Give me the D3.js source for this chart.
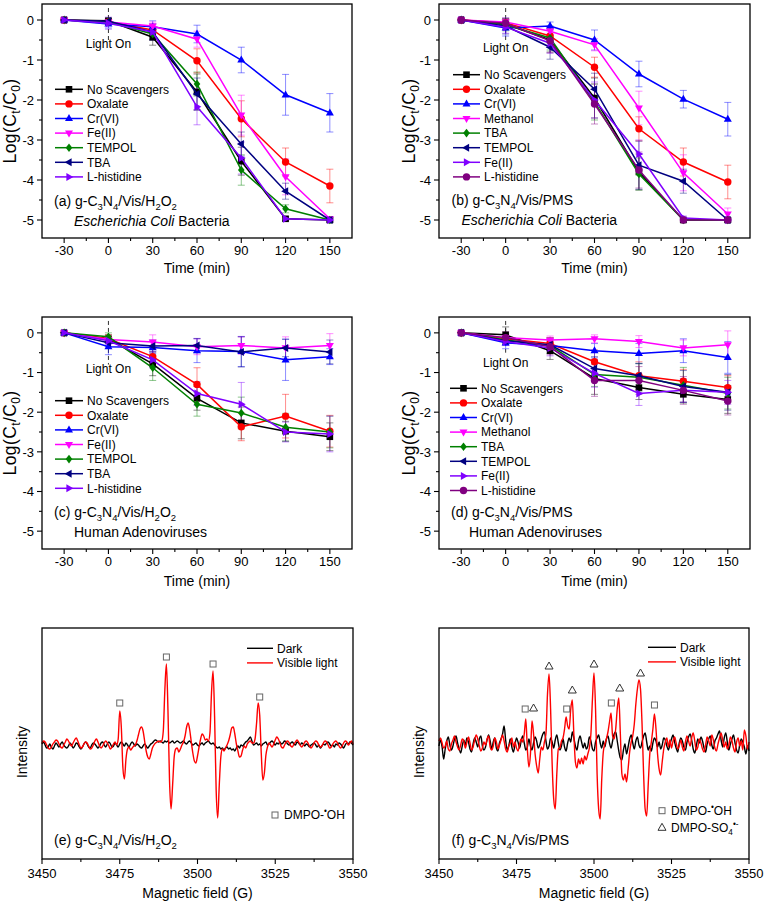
<!DOCTYPE html>
<html><head><meta charset="utf-8">
<script src="https://cdn.jsdelivr.net/npm/d3@7"></script>
<style>body{margin:0;background:#fff}svg{display:block;font-family:"Liberation Sans",Arial,sans-serif}</style>
</head><body><svg id="chart" width="765" height="906"></svg>
<script>
// ---------------- DATA ----------------
const timePoints = [-30, 0, 30, 60, 90, 120, 150];
const xTickValues = [-30, 0, 30, 60, 90, 120, 150];
const xTickLabels = ["-30", "0", "30", "60", "90", "120", "150"];
const yTickValues = [0, -1, -2, -3, -4, -5];
const yTickLabels = ["0", "-1", "-2", "-3", "-4", "-5"];

// (a) g-C3N4/Vis/H2O2, E. coli
const aSeries = ["No Scavengers", "Oxalate", "Cr(VI)", "Fe(II)", "TEMPOL", "TBA", "L-histidine"];
const aNoScav = [0, -0.02, -0.43, -1.80, -3.53, -4.97, -5.00];
const aOxalate = [0, -0.05, -0.25, -1.02, -2.47, -3.55, -4.15];
const aCr = [0, -0.10, -0.17, -0.35, -1.00, -1.87, -2.32];
const aFe = [0, -0.05, -0.15, -0.48, -2.38, -3.92, -4.97];
const aTempol = [0, -0.05, -0.35, -1.60, -3.75, -4.72, -5.00];
const aTba = [0, -0.03, -0.30, -1.85, -3.10, -4.28, -5.00];
const aHis = [0, -0.08, -0.30, -2.17, -3.45, -4.97, -5.00];
const aNoScavErr = [0, 0.05, 0.20, 0.45, 0.35, 0.05, 0.05];
const aOxalateErr = [0, 0.05, 0.10, 0.30, 0.45, 0.35, 0.42];
const aCrErr = [0, 0.10, 0.15, 0.22, 0.32, 0.51, 0.48];
const aFeErr = [0, 0.05, 0.10, 0.20, 0.50, 0.45, 0.05];
const aTempolErr = [0, 0.05, 0.15, 0.30, 0.38, 0.10, 0.05];
const aTbaErr = [0, 0.08, 0.20, 0.40, 0.30, 0.20, 0.05];
const aHisErr = [0, 0.15, 0.20, 0.45, 0.40, 0.05, 0.05];

// (b) g-C3N4/Vis/PMS, E. coli
const bSeries = ["No Scavengers", "Oxalate", "Cr(VI)", "Methanol", "TBA", "TEMPOL", "Fe(II)", "L-histidine"];
const bNoScav = [0, -0.10, -0.50, -1.95, -3.80, -5.00, -5.00];
const bOxalate = [0, -0.07, -0.40, -1.18, -2.72, -3.55, -4.05];
const bCr = [0, -0.20, -0.15, -0.50, -1.35, -1.98, -2.48];
const bMethanol = [0, -0.05, -0.28, -0.62, -2.20, -3.82, -4.85];
const bTba = [0, -0.12, -0.45, -2.05, -3.85, -5.00, -5.00];
const bTempol = [0, -0.15, -0.68, -1.73, -3.63, -4.03, -5.00];
const bFe = [0, -0.18, -0.58, -2.00, -3.35, -4.95, -5.00];
const bHis = [0, -0.08, -0.52, -2.10, -3.75, -5.00, -5.00];
const bNoScavErr = [0, 0.10, 0.30, 0.50, 0.45, 0.05, 0.05];
const bOxalateErr = [0, 0.10, 0.15, 0.25, 0.30, 0.35, 0.42];
const bCrErr = [0, 0.20, 0.10, 0.25, 0.32, 0.22, 0.42];
const bMethanolErr = [0, 0.10, 0.10, 0.15, 0.42, 0.45, 0.15];
const bTbaErr = [0, 0.15, 0.30, 0.45, 0.40, 0.05, 0.05];
const bTempolErr = [0, 0.20, 0.30, 0.40, 0.60, 0.30, 0.05];
const bFeErr = [0, 0.15, 0.25, 0.45, 0.35, 0.05, 0.05];
const bHisErr = [0, 0.10, 0.30, 0.50, 0.45, 0.05, 0.05];

// (c) g-C3N4/Vis/H2O2, Human Adenoviruses
const cSeries = ["No Scavengers", "Oxalate", "Cr(VI)", "Fe(II)", "TEMPOL", "TBA", "L-histidine"];
const cNoScav = [0, -0.15, -0.78, -1.65, -2.27, -2.48, -2.62];
const cOxalate = [0, -0.15, -0.60, -1.30, -2.37, -2.10, -2.48];
const cCr = [0, -0.35, -0.37, -0.45, -0.47, -0.68, -0.60];
const cFe = [0, -0.17, -0.23, -0.35, -0.32, -0.38, -0.32];
const cTempol = [0, -0.10, -0.88, -1.80, -2.02, -2.38, -2.50];
const cTba = [0, -0.25, -0.33, -0.32, -0.48, -0.38, -0.48];
const cHis = [0, -0.20, -0.68, -1.53, -1.80, -2.50, -2.55];
const cNoScavErr = [0, 0.10, 0.30, 0.30, 0.40, 0.25, 0.35];
const cOxalateErr = [0, 0.10, 0.20, 0.42, 0.35, 0.55, 0.40];
const cCrErr = [0, 0.20, 0.15, 0.30, 0.38, 0.52, 0.20];
const cFeErr = [0, 0.05, 0.18, 0.20, 0.22, 0.28, 0.30];
const cTempolErr = [0, 0.10, 0.32, 0.30, 0.40, 0.35, 0.40];
const cTbaErr = [0, 0.10, 0.15, 0.18, 0.38, 0.22, 0.30];
const cHisErr = [0, 0.10, 0.20, 0.30, 0.55, 0.25, 0.45];

// (d) g-C3N4/Vis/PMS, Human Adenoviruses
const dSeries = ["No Scavengers", "Oxalate", "Cr(VI)", "Methanol", "TBA", "TEMPOL", "Fe(II)", "L-histidine"];
const dNoScav = [0, -0.05, -0.45, -1.15, -1.38, -1.55, -1.68];
const dOxalate = [0, -0.15, -0.27, -0.73, -1.08, -1.22, -1.38];
const dCr = [0, -0.25, -0.32, -0.45, -0.52, -0.45, -0.62];
const dMethanol = [0, -0.12, -0.18, -0.15, -0.22, -0.38, -0.30];
const dTba = [0, -0.18, -0.32, -1.05, -1.12, -1.32, -1.52];
const dTempol = [0, -0.20, -0.30, -0.90, -1.08, -1.35, -1.50];
const dFe = [0, -0.22, -0.38, -1.02, -1.53, -1.45, -1.50];
const dHis = [0, -0.12, -0.35, -1.20, -1.20, -1.45, -1.72];
const dNoScavErr = [0, 0.20, 0.22, 0.40, 0.30, 0.20, 0.35];
const dOxalateErr = [0, 0.10, 0.15, 0.30, 0.35, 0.30, 0.30];
const dCrErr = [0, 0.15, 0.12, 0.18, 0.25, 0.30, 0.40];
const dMethanolErr = [0, 0.10, 0.10, 0.10, 0.15, 0.20, 0.35];
const dTbaErr = [0, 0.10, 0.20, 0.30, 0.35, 0.45, 0.40];
const dTempolErr = [0, 0.10, 0.15, 0.30, 0.30, 0.40, 0.45];
const dFeErr = [0, 0.10, 0.20, 0.35, 0.30, 0.30, 0.30];
const dHisErr = [0, 0.15, 0.20, 0.40, 0.35, 0.35, 0.35];

// EPR spectra: field from 3450 G in 0.5 G steps (201 points), intensity in a.u.
const fieldStart = 3450, fieldStep = 0.5;
const fieldTicks = [3450, 3475, 3500, 3525, 3550];
const eVisible = [
  2,4,3,0,-3,-4,-2,1,3,5,
  4,1,-2,-3,0,3,6,4,1,-1,
  2,5,7,4,0,-3,-2,1,3,2,
  -1,-4,-3,0,4,6,3,-1,-3,-1,
  2,4,2,-1,-4,-2,1,3,0,6,
  34,18,-22,-34,-14,-4,-2,-5,-3,-1,
  0,4,10,16,18,14,4,-6,-12,-14,
  -9,-3,0,2,3,4,3,4,14,55,
  81,35,-35,-64,-40,-12,-4,-3,-7,-4,
  0,3,9,18,22,15,3,-8,-16,-18,
  -11,-2,6,11,9,5,6,4,12,52,
  74,28,-45,-73,-40,-12,-4,-6,-3,0,
  4,10,17,18,11,1,-6,-12,-11,-5,
  -1,-3,1,3,4,2,2,6,22,42,
  30,-8,-35,-28,-10,-2,2,0,-2,1,
  5,8,6,2,-2,-3,0,3,4,2,
  -1,-2,1,3,5,3,0,-2,0,3,
  4,2,-1,-3,-1,2,4,3,0,-2,
  -1,2,4,3,0,-3,-2,1,3,4,
  2,-1,-3,-1,2,4,3,0,2,4,
  1];
const eDark = [
  1,3,0,-3,-2,1,-2,-4,-1,2,
  0,-2,1,3,0,-2,-3,-1,2,0,
  -3,-1,2,1,-2,-4,-2,1,3,1,
  -2,-3,0,2,1,-1,-3,-1,2,3,
  0,-2,1,3,1,-2,-1,2,0,-2,
  1,3,1,-1,2,0,-2,1,3,1,
  -1,1,0,-2,-3,-1,1,-1,-3,-1,
  1,2,4,5,4,3,4,3,2,4,
  3,4,2,3,4,2,3,4,3,2,
  3,4,2,1,3,4,2,0,1,2,
  0,-1,1,2,0,2,3,4,2,1,
  2,0,-2,-3,-2,-4,-3,-5,-3,-2,
  -4,-3,-5,-4,-6,-3,-1,-3,0,-1,
  1,3,4,6,8,4,0,1,2,0,
  1,-1,1,2,3,0,1,3,4,2,
  0,2,1,3,1,2,4,3,1,0,
  2,3,1,0,3,2,0,2,1,-1,
  1,0,-2,0,1,2,0,-2,0,-3,
  -1,1,0,2,3,1,-1,0,-2,1,
  0,2,1,-1,-3,0,2,1,3,2,
  0];
const eMarkField = [3475, 3490, 3505, 3520];
const eMarkIntensity = [42, 88, 81, 48];

const fVisible = [
  3,6,1,-4,-2,3,-5,-7,0,4,
  8,2,-3,-6,-1,5,3,-4,2,7,
  1,-6,-3,4,9,5,-2,-7,-4,2,
  -1,5,8,-3,-6,-2,6,2,-5,-1,
  4,9,3,-5,-8,-2,1,6,-3,2,
  -4,-7,0,5,2,10,25,-5,-23,-10,
  23,10,-10,-22,-29,-15,-3,-6,2,10,
  50,70,35,-20,-55,-65,-30,-5,-4,3,
  6,15,27,18,15,35,44,10,-18,-24,
  -15,-20,-14,-20,-12,-16,-10,-4,10,45,
  71,35,-30,-65,-75,-35,-8,0,5,12,
  22,31,8,5,15,35,46,10,-30,-36,
  -30,-38,-25,-8,2,8,20,40,55,64,
  55,20,-30,-65,-72,-40,-10,2,15,30,
  15,-10,-25,-31,-18,-5,2,6,-3,4,
  -4,3,7,1,-5,-2,4,-3,-7,2,
  8,3,-2,6,11,3,-6,-3,5,1,
  -5,-8,-1,7,3,-2,9,4,-4,-7,
  0,6,11,4,-3,2,-5,-1,7,3,
  -4,-8,2,6,-2,3,-6,14,8,-5,
  2];
const fDark = [
  -2,4,-3,-15,-5,3,7,-1,-6,-2,
  5,8,1,-5,-9,-2,4,-1,6,2,
  -5,-8,0,6,2,-3,5,8,-2,-6,
  -3,4,9,3,-5,2,6,-4,-7,1,
  5,10,18,4,-6,-2,5,-3,-8,-1,
  6,2,-4,3,8,1,-6,-3,5,-2,
  -6,1,7,3,-4,-1,5,10,12,3,
  -5,-2,6,2,-4,4,9,1,-6,-2,
  5,-3,-7,1,6,2,12,6,-2,-6,
  3,8,2,-4,1,-5,-2,7,3,-5,
  -7,2,6,9,1,-4,3,-3,5,8,
  1,-4,3,10,12,3,-7,-14,-16,-6,
  0,-10,-3,5,9,1,-5,3,7,-1,
  -4,2,8,11,2,-6,-2,-7,1,6,
  3,-3,2,-5,-1,6,4,-2,-6,0,
  5,9,2,-4,-8,1,6,3,-3,-6,
  2,7,10,4,-5,-9,-2,5,1,7,
  3,-4,-8,0,5,8,-1,-5,3,6,
  10,13,4,-3,6,11,2,-6,0,5,
  9,1,-6,-9,-1,5,2,-3,-10,-2,
  -7];
const fMarkField = [3477.8, 3480.5, 3485.5, 3491.2, 3493.0, 3500.0, 3505.6, 3508.3, 3515.0, 3519.5];
const fMarkIntensity = [35, 36, 78, 35, 54, 80, 41, 56, 71, 39];
const fMarkType = ["sq", "tri", "tri", "sq", "tri", "tri", "sq", "tri", "tri", "sq"];

// ---------------- STYLE ----------------
const colH2O2 = ["#000000", "#ff0000", "#0000ff", "#ff00ff", "#008000", "#000080", "#8000ff"];
const symH2O2 = ["square", "circle", "triUp", "triDown", "diamond", "triLeft", "triRight"];
const colPMS = ["#000000", "#ff0000", "#0000ff", "#ff00ff", "#008000", "#000080", "#8000ff", "#800080"];
const symPMS = ["square", "circle", "triUp", "triDown", "diamond", "triLeft", "triRight", "circle"];
const symPaths = {
  square: "M-3.3,-3.3H3.3V3.3H-3.3Z",
  triUp: "M0,-4.4L4,2.6L-4,2.6Z",
  triDown: "M0,4.4L4,-2.6L-4,-2.6Z",
  diamond: "M0,-4.3L3.3,0L0,4.3L-3.3,0Z",
  triLeft: "M-4.4,0L2.6,-4L2.6,4Z",
  triRight: "M4.4,0L-2.6,-4L-2.6,4Z"
};

const svg = d3.select("#chart");

function rich(sel, x, y, parts, size, anchor) {
  const t = sel.append("text").attr("x", x).attr("y", y).attr("font-size", size)
    .attr("text-anchor", anchor || "start").attr("fill", "#000");
  let shift = 0;
  parts.forEach(([s, m]) => {
    const ts = t.append("tspan").text(s);
    const target = m === "sub" ? size * 0.28 : m === "sup" ? -size * 0.42 : 0;
    ts.attr("dy", target - shift);
    shift = target;
    if (m === "sub" || m === "sup") ts.attr("font-size", size * 0.68);
    if (m === "i") ts.attr("font-style", "italic");
  });
  return t;
}

function marker(g, type, x, y, color) {
  if (type === "circle") {
    g.append("circle").attr("cx", x).attr("cy", y).attr("r", 3.7).attr("fill", color);
  } else {
    g.append("path").attr("d", symPaths[type]).attr("transform", `translate(${x},${y})`).attr("fill", color);
  }
}

function kinetics(cfg) {
  const g = svg.append("g");
  const x = d3.scaleLinear().domain([-45, 165]).range([cfg.left, cfg.right]);
  const y = d3.scaleLinear().domain([-5.45, 0.4]).range([cfg.bottom, cfg.top]);
  const tk = g.append("g").attr("stroke", "#000").attr("stroke-width", 1.1);
  xTickValues.forEach(v => tk.append("line").attr("x1", x(v)).attr("x2", x(v)).attr("y1", cfg.bottom).attr("y2", cfg.bottom + 5));
  d3.range(-15, 150, 30).forEach(v => tk.append("line").attr("x1", x(v)).attr("x2", x(v)).attr("y1", cfg.bottom).attr("y2", cfg.bottom + 3));
  yTickValues.forEach(v => tk.append("line").attr("x1", cfg.left - 5).attr("x2", cfg.left).attr("y1", y(v)).attr("y2", y(v)));
  [-0.5, -1.5, -2.5, -3.5, -4.5].forEach(v => tk.append("line").attr("x1", cfg.left - 3).attr("x2", cfg.left).attr("y1", y(v)).attr("y2", y(v)));
  xTickValues.forEach((v, i) => g.append("text").attr("x", x(v)).attr("y", cfg.bottom + 16.5).attr("text-anchor", "middle").attr("font-size", 13).text(xTickLabels[i]));
  yTickValues.forEach((v, i) => g.append("text").attr("x", cfg.left - 8).attr("y", y(v)).attr("dy", "0.36em").attr("text-anchor", "end").attr("font-size", 13).text(yTickLabels[i]));
  g.append("text").attr("x", (cfg.left + cfg.right) / 2).attr("y", cfg.bottom + cfg.titleGap).attr("text-anchor", "middle").attr("font-size", 14).text("Time (min)");
  const yt = svg.append("g").attr("transform", `translate(${cfg.yTitleX},${(cfg.top + cfg.bottom) / 2}) rotate(-90)`);
  rich(yt, 0, 0, [["Log(C", "n"], ["t", "sub"], ["/C", "n"], ["0", "sub"], [")", "n"]], 17.5, "middle").attr("letter-spacing", 0.4);
  g.append("line").attr("x1", x(0)).attr("x2", x(0)).attr("y1", y(0.3)).attr("y2", y(cfg.dashTo))
    .attr("stroke", "#333").attr("stroke-width", 1).attr("stroke-dasharray", "4,3");
  g.append("text").attr("x", x(0)).attr("y", cfg.lightY).attr("dy", "0.35em").attr("text-anchor", "middle").attr("font-size", 12).text("Light On");
  const eb = g.append("g").attr("stroke-width", 1).attr("stroke-opacity", 0.45);
  cfg.values.forEach((vals, s) => {
    vals.forEach((v, i) => {
      const e = cfg.errors[s][i];
      if (!e) return;
      const xx = x(timePoints[i]);
      eb.append("line").attr("x1", xx).attr("x2", xx).attr("y1", y(v + e)).attr("y2", y(v - e)).attr("stroke", cfg.colors[s]);
      [v + e, v - e].forEach(w => eb.append("line").attr("x1", xx - 3.5).attr("x2", xx + 3.5).attr("y1", y(w)).attr("y2", y(w)).attr("stroke", cfg.colors[s]));
    });
  });
  const line = d3.line().x((d, i) => x(timePoints[i])).y(d => y(d));
  cfg.values.forEach((vals, s) => {
    g.append("path").attr("d", line(vals)).attr("fill", "none").attr("stroke", cfg.colors[s]).attr("stroke-width", 1.5);
    vals.forEach((v, i) => marker(g, cfg.symbols[s], x(timePoints[i]), y(v), cfg.colors[s]));
  });
  cfg.names.forEach((n, s) => {
    const yy = cfg.legY + s * 14.6;
    g.append("line").attr("x1", cfg.legX0).attr("x2", cfg.legX1).attr("y1", yy).attr("y2", yy).attr("stroke", cfg.colors[s]).attr("stroke-width", 1.5);
    marker(g, cfg.symbols[s], (cfg.legX0 + cfg.legX1) / 2, yy, cfg.colors[s]);
    g.append("text").attr("x", cfg.legX1 + 4).attr("y", yy).attr("dy", "0.36em").attr("font-size", 12).text(n);
  });
  rich(g, cfg.left + cfg.labX, cfg.labY, cfg.label, 14);
  rich(g, cfg.left + cfg.subX, cfg.labY + 20, cfg.sublabel, 14);
  g.append("rect").attr("x", cfg.left).attr("y", cfg.top).attr("width", cfg.right - cfg.left).attr("height", cfg.bottom - cfg.top)
    .attr("fill", "none").attr("stroke", "#000").attr("stroke-width", 1.3);
}

const labH2O2 = [["(a) g-C", "n"], ["3", "sub"], ["N", "n"], ["4", "sub"], ["/Vis/H", "n"], ["2", "sub"], ["O", "n"], ["2", "sub"]];
function lab(letter, parts) { const p = parts.map(d => d.slice()); p[0][0] = "(" + letter + ") g-C"; return p; }
const labPMS = [["(b) g-C", "n"], ["3", "sub"], ["N", "n"], ["4", "sub"], ["/Vis/PMS", "n"]];
const ecoli = [["Escherichia Coli", "i"], [" Bacteria", "n"]];
const hadv = [["Human Adenoviruses", "n"]];

kinetics({left: 42, right: 352, top: 4, bottom: 238, titleGap: 35, yTitleX: 15.5, dashTo: -0.5, lightY: 44,
  names: aSeries, values: [aNoScav, aOxalate, aCr, aFe, aTempol, aTba, aHis],
  errors: [aNoScavErr, aOxalateErr, aCrErr, aFeErr, aTempolErr, aTbaErr, aHisErr],
  colors: colH2O2, symbols: symH2O2, legX0: 55, legX1: 83, legY: 89.3,
  label: lab("a", labH2O2), sublabel: ecoli, labX: 12, subX: 32, labY: 206});
kinetics({left: 439, right: 750, top: 4, bottom: 238, titleGap: 35, yTitleX: 414.5, dashTo: -0.5, lightY: 47.3,
  names: bSeries, values: [bNoScav, bOxalate, bCr, bMethanol, bTba, bTempol, bFe, bHis],
  errors: [bNoScavErr, bOxalateErr, bCrErr, bMethanolErr, bTbaErr, bTempolErr, bFeErr, bHisErr],
  colors: colPMS, symbols: symPMS, legX0: 453, legX1: 480, legY: 74.7,
  label: lab("b", labPMS), sublabel: ecoli, labX: 12.5, subX: 22.5, labY: 205});
kinetics({left: 42, right: 352, top: 317, bottom: 549, titleGap: 37, yTitleX: 15.5, dashTo: -0.8, lightY: 369,
  names: cSeries, values: [cNoScav, cOxalate, cCr, cFe, cTempol, cTba, cHis],
  errors: [cNoScavErr, cOxalateErr, cCrErr, cFeErr, cTempolErr, cTbaErr, cHisErr],
  colors: colH2O2, symbols: symH2O2, legX0: 55, legX1: 83, legY: 400.7,
  label: lab("c", labH2O2), sublabel: hadv, labX: 12, subX: 32, labY: 517});
kinetics({left: 439, right: 750, top: 317, bottom: 549, titleGap: 37, yTitleX: 414.5, dashTo: -0.5, lightY: 362.3,
  names: dSeries, values: [dNoScav, dOxalate, dCr, dMethanol, dTba, dTempol, dFe, dHis],
  errors: [dNoScavErr, dOxalateErr, dCrErr, dMethanolErr, dTbaErr, dTempolErr, dFeErr, dHisErr],
  colors: colPMS, symbols: symPMS, legX0: 450, legX1: 477, legY: 388.3,
  label: lab("d", labPMS), sublabel: hadv, labX: 12, subX: 30, labY: 517});

function openSquare(g, x, y) {
  g.append("rect").attr("x", x - 3).attr("y", y - 3).attr("width", 6).attr("height", 6).attr("fill", "#fff").attr("stroke", "#666").attr("stroke-width", 1);
}
function openTri(g, x, y) {
  g.append("path").attr("d", "M0,-4L4,3L-4,3Z").attr("transform", `translate(${x},${y})`).attr("fill", "#fff").attr("stroke", "#333").attr("stroke-width", 1);
}

function epr(cfg) {
  const g = svg.append("g");
  const x = d3.scaleLinear().domain([3450, 3550]).range([cfg.left, cfg.right]);
  const y = d3.scaleLinear().domain(cfg.yDomain).range([cfg.bottom, cfg.top]);
  const tk = g.append("g").attr("stroke", "#000").attr("stroke-width", 1.1);
  fieldTicks.forEach(v => tk.append("line").attr("x1", x(v)).attr("x2", x(v)).attr("y1", cfg.bottom).attr("y2", cfg.bottom + 5));
  [3462.5, 3487.5, 3512.5, 3537.5].forEach(v => tk.append("line").attr("x1", x(v)).attr("x2", x(v)).attr("y1", cfg.bottom).attr("y2", cfg.bottom + 3));
  fieldTicks.forEach(v => g.append("text").attr("x", x(v)).attr("y", cfg.bottom + 18.5).attr("text-anchor", "middle").attr("font-size", 13).text(String(v)));
  g.append("text").attr("x", (cfg.left + cfg.right) / 2).attr("y", cfg.bottom + 39).attr("text-anchor", "middle").attr("font-size", 14).text("Magnetic field (G)");
  g.append("text").attr("transform", `translate(${cfg.yTitleX},752) rotate(-90)`).attr("text-anchor", "middle").attr("font-size", 14).text("Intensity");
  const line = d3.line().curve(d3.curveMonotoneX).x((d, i) => x(fieldStart + i * fieldStep)).y(d => y(d));
  g.append("path").attr("d", line(cfg.dark)).attr("fill", "none").attr("stroke", "#000").attr("stroke-width", 1.4);
  g.append("path").attr("d", line(cfg.vis)).attr("fill", "none").attr("stroke", "#ff0000").attr("stroke-width", 1.4);
  cfg.markField.forEach((f, i) => {
    const t = cfg.markType ? cfg.markType[i] : "sq";
    if (t === "sq") openSquare(g, x(f), y(cfg.markInt[i])); else openTri(g, x(f), y(cfg.markInt[i]));
  });
  [["Dark", "#000"], ["Visible light", "#ff0000"]].forEach(([n, c], i) => {
    const yy = cfg.legY + i * 14.6;
    g.append("line").attr("x1", cfg.legX0).attr("x2", cfg.legX1).attr("y1", yy).attr("y2", yy).attr("stroke", c).attr("stroke-width", 1.4);
    g.append("text").attr("x", cfg.legX1 + 4).attr("y", yy).attr("dy", "0.36em").attr("font-size", 12).text(n);
  });
  cfg.keys.forEach((k, i) => {
    const yy = cfg.keyY + i * 16.6;
    if (k.type === "sq") openSquare(g, cfg.keyX, yy); else openTri(g, cfg.keyX, yy);
    rich(g, cfg.keyX + 9, yy + 4.3, k.parts, 12);
  });
  rich(g, cfg.left + cfg.labX, cfg.labY, cfg.label, 14);
  g.append("rect").attr("x", cfg.left).attr("y", cfg.top).attr("width", cfg.right - cfg.left).attr("height", cfg.bottom - cfg.top)
    .attr("fill", "none").attr("stroke", "#000").attr("stroke-width", 1.3);
}

const keyOH = {type: "sq", parts: [["DMPO-", "n"], ["\u2022", "sup"], ["OH", "n"]]};
const keySO4 = {type: "tri", parts: [["DMPO-SO", "n"], ["4", "sub"], ["\u2022-", "sup"]]};

epr({left: 42, right: 353, top: 628, bottom: 859, yDomain: [-114, 117], yTitleX: 27,
  vis: eVisible, dark: eDark, markField: eMarkField, markInt: eMarkIntensity,
  legX0: 247, legX1: 273, legY: 648.3, keyX: 275, keyY: 815, keys: [keyOH],
  label: [["(e) g-C", "n"], ["3", "sub"], ["N", "n"], ["4", "sub"], ["/Vis/H", "n"], ["2", "sub"], ["O", "n"], ["2", "sub"]], labX: 12, labY: 845});
epr({left: 439, right: 749, top: 628, bottom: 859, yDomain: [-115, 116], yTitleX: 424,
  vis: fVisible, dark: fDark, markField: fMarkField, markInt: fMarkIntensity, markType: fMarkType,
  legX0: 648, legX1: 676, legY: 647.3, keyX: 662, keyY: 810.7, keys: [keyOH, keySO4],
  label: [["(f) g-C", "n"], ["3", "sub"], ["N", "n"], ["4", "sub"], ["/Vis/PMS", "n"]], labX: 12.5, labY: 845});
</script></body></html>
